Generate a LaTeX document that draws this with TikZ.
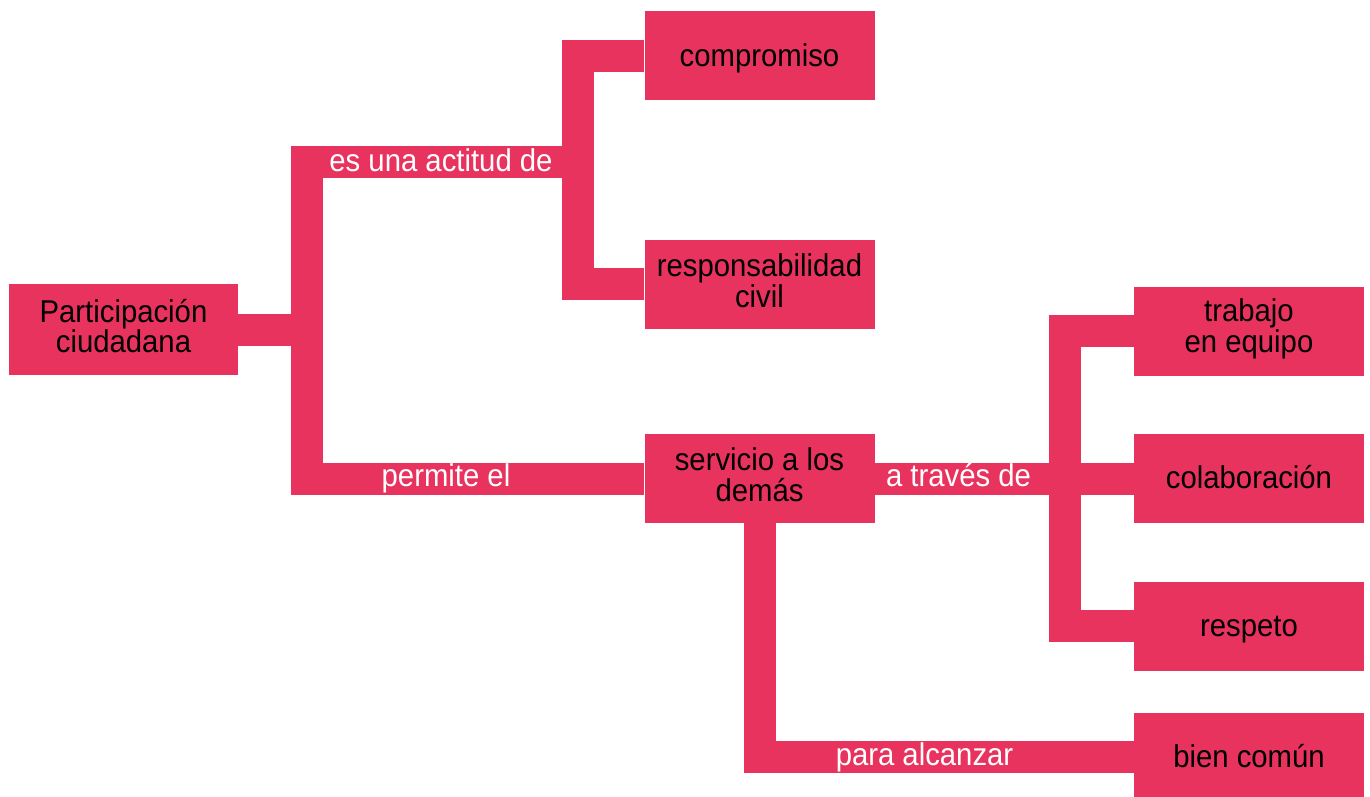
\documentclass[tikz,border=0pt]{standalone}
\usepackage{fontspec}
\setmainfont[FakeStretch=0.93]{Liberation Sans}
\definecolor{rosa}{HTML}{E8335F}
\newcommand{\boxline}[1]{\rule[-7pt]{0pt}{29pt}#1}
\begin{document}
\begin{tikzpicture}[x=1pt,y=-1pt,
  box/.style={fill=rosa, minimum width=230pt, minimum height=89pt, inner sep=0pt,
    align=center, font=\fontsize{31.5}{30.5}\selectfont},
  one/.style={text height=24pt, text depth=3pt},
  conn/.style={draw=rosa, line width=32pt, line join=miter},
  lab/.style={text=white, inner sep=0pt, font=\fontsize{31.5}{30}\selectfont,
    text height=22pt, text depth=6pt}]
\useasboundingbox (0,0) rectangle (1370,796);
% boxes
\node[box, minimum width=229pt, minimum height=91pt] (part) at (123.5,329.5) {\boxline{Participación}\\\boxline{ciudadana}};
\node[box, one] (comp) at (759.5,55.5) {compromiso};
\node[box] (resp) at (759.5,284) {\boxline{responsabilidad}\\\boxline{civil}};
\node[box] (serv) at (759.5,478) {\boxline{servicio a los}\\\boxline{demás}};
\node[box] (trab) at (1249,331) {\rule[-7pt]{0pt}{29pt}trabajo\\\rule[-11pt]{0pt}{33pt}en equipo};
\node[box, one] (colab) at (1249,478) {colaboración};
\node[box, one] (respeto) at (1249,626) {respeto};
\node[box, one] (bien) at (1249,757) {bien común};
% junction points
\coordinate (j1) at (307,329.5);
\coordinate (j1t) at (307,162);
\coordinate (j1b) at (307,479);
\coordinate (j2t) at (578,56);
\coordinate (j2m) at (578,162);
\coordinate (j2b) at (578,284);
\coordinate (j3t) at (1064.5,331);
\coordinate (j3b) at (1064.5,626);
\coordinate (j4) at (759.5,757);
% connectors
\draw[conn] (comp.west |- j2t) -- (j2t) -- (j2b) -- (resp.west |- j2b);
\draw[conn] (j2m) -- (j1t) -- (j1b) -- (serv.west |- j1b);
\draw[conn] (part.east |- j1) -- (j1);
\draw[conn] (trab.west |- j3t) -- (j3t) -- (j3b) -- (respeto.west |- j3b);
\draw[conn] (serv.east |- j1b) -- (colab.west |- j1b);
\draw[conn] (serv.south) -- (j4) -- (bien.west |- j4);
% labels
\node[lab] (l1) at (441,163) {es una actitud de};
\node[lab] (l2) at (446,478) {permite el};
\node[lab] (l3) at (958.5,478) {a través de};
\node[lab] (l4) at (924.5,757) {para alcanzar};
\end{tikzpicture}
\end{document}
